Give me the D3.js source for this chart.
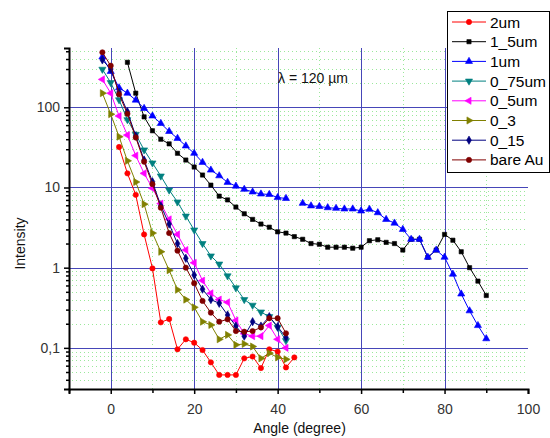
<!DOCTYPE html>
<html>
<head>
<meta charset="utf-8">
<script src="https://cdn.jsdelivr.net/npm/d3@7"></script>
<style>
  body { margin: 0; background: #fff; }
  svg { display: block; font-family: "Liberation Sans", Arial, sans-serif; }
</style>
</head>
<body>
<div id="chart"></div>
<script>
// --- data ---
const seriesNames = ['2um', '1_5um', '1um', '0_75um', '0_5um', '0_3', '0_15', 'bare Au'];

const anglesShort = [-2, 0, 2, 4, 6, 8, 10, 12, 14, 16, 18, 20, 22, 24, 26, 28, 30, 32, 34, 36, 38, 40, 42];

const angles2um = [2, 4, 6, 8, 10, 12, 14, 16, 18, 20, 22, 24, 26, 28, 30, 32, 34, 36, 38, 40, 42, 44];
const values2um = [32, 15, 8.1, 2.6, 0.98, 0.208, 0.229, 0.096, 0.128, 0.116, 0.094, 0.066, 0.046, 0.046, 0.046, 0.074, 0.078, 0.056, 0.096, 0.090, 0.057, 0.076];

const angles1_5um = [4, 6, 8, 10, 12, 14, 16, 18, 20, 22, 24, 26, 28, 30, 32, 34, 36, 38, 40, 42, 44, 46, 48, 50, 52, 54, 56, 58, 60, 62, 64, 66, 68, 70, 72, 74, 76, 78, 80, 82, 84, 86, 88, 90];
const values1_5um = [364, 150, 76, 51, 40, 35, 26.7, 22, 18, 14.3, 10.7, 7.8, 7.0, 5.7, 4.7, 4.0, 3.5, 3.2, 2.8, 2.7, 2.44, 2.26, 2.0, 1.96, 1.8, 1.8, 1.8, 1.75, 1.8, 2.17, 2.23, 2.07, 2.0, 1.66, 2.26, 2.26, 1.35, 1.66, 2.6, 2.2, 1.58, 1.0, 0.68, 0.45];

const angles1um = [-2, 0, 2, 4, 6, 8, 10, 12, 14, 16, 18, 20, 22, 24, 26, 28, 30, 32, 34, 36, 38, 40, 42, 46, 48, 50, 52, 54, 56, 58, 60, 62, 64, 66, 68, 70, 72, 74, 76, 78, 80, 82, 84, 86, 88, 90];
const values1um = [425, 280, 175, 150, 123, 97, 78, 63, 50, 41, 33, 26.7, 20.6, 16.5, 14.0, 11.6, 10.4, 9.5, 8.8, 8.3, 8.2, 7.5, 7.3, 6.35, 5.9, 5.8, 5.6, 5.5, 5.4, 5.4, 5.1, 5.35, 4.85, 4.0, 3.6, 3.0, 2.26, 2.26, 1.35, 1.66, 1.35, 0.83, 0.47, 0.29, 0.19, 0.13];

const values0_75um = [298, 203, 124, 70, 46, 29.4, 20.2, 13.9, 9.3, 6.6, 4.4, 2.95, 2.0, 1.4, 1.11, 0.79, 0.56, 0.40, 0.34, 0.28, 0.245, 0.18, 0.123];
const values0_5um = [223, 150, 78, 45, 25, 15, 9.8, 6.3, 4.0, 2.6, 1.66, 1.15, 0.69, 0.48, 0.40, 0.37, 0.22, 0.15, 0.14, 0.14, 0.19, 0.128, 0.10];
const values0_3 = [150, 82, 43, 21.5, 11.7, 6.2, 2.7, 1.58, 0.93, 0.53, 0.40, 0.32, 0.212, 0.193, 0.128, 0.145, 0.109, 0.112, 0.104, 0.074, 0.086, 0.076, 0.072];
const values0_15 = [390, 300, 155, 88, 44, 22, 11.8, 5.9, 3.5, 2.0, 1.31, 0.81, 0.54, 0.40, 0.36, 0.257, 0.187, 0.14, 0.212, 0.187, 0.245, 0.184, 0.135];
const valuesBareAu = [485, 330, 145, 83, 42, 21, 11, 5.6, 2.7, 1.63, 1.0, 0.64, 0.385, 0.275, 0.212, 0.227, 0.162, 0.159, 0.162, 0.18, 0.234, 0.234, 0.152];

const xTicks = [0, 20, 40, 60, 80, 100];
const xMinorTicks = [-10, 10, 30, 50, 70, 90];
const yTicks = [0.1, 1, 10, 100];
const yTickLabels = ['0,1', '1', '10', '100'];

// --- styles ---
const colors = ['#ff0000', '#000000', '#0000ff', '#008080', '#ff00ff', '#808000', '#000080', '#800000'];
const shapes = ['circle', 'square', 'up', 'down', 'left', 'right', 'diamond', 'circle'];

const series = [
  { x: angles2um, y: values2um },
  { x: angles1_5um, y: values1_5um },
  { x: angles1um, y: values1um },
  { x: anglesShort, y: values0_75um },
  { x: anglesShort, y: values0_5um },
  { x: anglesShort, y: values0_3 },
  { x: anglesShort, y: values0_15 },
  { x: anglesShort, y: valuesBareAu }
].map((s, i) => ({
  name: seriesNames[i],
  color: colors[i],
  shape: shapes[i],
  points: s.x.map((a, j) => ({ a, v: s.y[j] }))
}));

const W = 550, H = 438;
const plot = { left: 69, right: 528, top: 48, bottom: 389 };

const svg = d3.select('#chart').append('svg')
  .attr('width', W)
  .attr('height', H);

const x = d3.scaleLinear().domain([-10, 100]).range([plot.left, plot.right]);
const y = d3.scaleLog().domain([0.0307, 549]).range([plot.bottom, plot.top]);

// minor log values between decades
const yMinor = [];
[0.01, 0.1, 1, 10, 100].forEach(d => {
  for (let k = 2; k <= 9; k++) {
    const v = d * k;
    if (v >= y.domain()[0] && v <= y.domain()[1]) yMinor.push(v);
  }
});

// grid: green dotted minor
const grid = svg.append('g');
grid.selectAll('.hminor')
  .data(yMinor)
  .enter().append('line')
  .attr('x1', plot.left + 3).attr('x2', plot.right)
  .attr('y1', d => Math.round(y(d)) + 0.5).attr('y2', d => Math.round(y(d)) + 0.5)
  .attr('stroke', '#9be89b')
  .attr('stroke-dasharray', '1,3');
grid.selectAll('.vminor')
  .data(xMinorTicks.filter(d => d > -10))
  .enter().append('line')
  .attr('x1', d => Math.round(x(d)) + 0.5).attr('x2', d => Math.round(x(d)) + 0.5)
  .attr('y1', plot.top).attr('y2', plot.bottom)
  .attr('stroke', '#9be89b')
  .attr('stroke-dasharray', '1,3');

// grid: blue major
grid.selectAll('.hmajor')
  .data(yTicks)
  .enter().append('line')
  .attr('x1', plot.left).attr('x2', plot.right)
  .attr('y1', d => Math.round(y(d)) + 0.5).attr('y2', d => Math.round(y(d)) + 0.5)
  .attr('stroke', '#4646b8')
  .attr('stroke-width', 1);
grid.selectAll('.vmajor')
  .data(xTicks.filter(d => d < 100))
  .enter().append('line')
  .attr('x1', d => Math.round(x(d)) + 0.5).attr('x2', d => Math.round(x(d)) + 0.5)
  .attr('y1', plot.top).attr('y2', plot.bottom)
  .attr('stroke', '#4646b8')
  .attr('stroke-width', 1);

// axes
svg.append('g')
  .attr('transform', `translate(0,${plot.bottom})`)
  .call(d3.axisBottom(x).tickValues(xTicks).tickSize(5).tickPadding(10).tickFormat(d3.format('d')));
svg.append('g')
  .attr('transform', `translate(0,${plot.bottom})`)
  .call(d3.axisBottom(x).tickValues(xMinorTicks).tickSize(4).tickFormat(''))
  .call(g => g.select('.domain').remove());

svg.append('g')
  .attr('transform', `translate(${plot.left},0)`)
  .call(d3.axisLeft(y).tickValues(yTicks).tickSize(5).tickPadding(4)
    .tickFormat((d, i) => yTickLabels[i]));
svg.append('g')
  .attr('transform', `translate(${plot.left},0)`)
  .call(d3.axisLeft(y).tickValues(yMinor).tickSize(3).tickFormat(''))
  .call(g => g.select('.domain').remove());

svg.selectAll('.domain').attr('stroke', '#000').attr('stroke-width', 2);
svg.selectAll('.tick line').attr('stroke', '#000').attr('stroke-width', 1.5);
svg.selectAll('.tick text')
  .attr('font-size', 14)
  .attr('font-family', '"Liberation Sans", Arial, sans-serif')
  .attr('fill', '#333');

// axis titles
svg.append('text')
  .attr('x', (plot.left + plot.right) / 2 + 1)
  .attr('y', 433)
  .attr('text-anchor', 'middle')
  .attr('font-size', 14)
  .attr('fill', '#111')
  .text('Angle (degree)');

svg.append('text')
  .attr('transform', `translate(25,${(plot.top + plot.bottom) / 2 + 25}) rotate(-90)`)
  .attr('text-anchor', 'middle')
  .attr('font-size', 14)
  .attr('fill', '#111')
  .text('Intensity');

// annotation
svg.append('text')
  .attr('x', 278)
  .attr('y', 83)
  .attr('font-size', 14)
  .attr('fill', '#111')
  .text('λ = 120 µm');

// marker helper
function marker(sel, shape, color) {
  const sym = {
    circle: d3.symbolCircle, square: d3.symbolSquare, diamond: d3.symbolDiamond,
    up: d3.symbolTriangle, down: d3.symbolTriangle, left: d3.symbolTriangle, right: d3.symbolTriangle
  }[shape];
  const size = { circle: 22, square: 18, diamond: 20 }[shape] || 22;
  const rot = { down: 180, left: -90, right: 90 }[shape] || 0;
  sel.append('path')
    .attr('d', d3.symbol().type(sym).size(size)())
    .attr('transform', d => `translate(${d[0]},${d[1]}) rotate(${rot})`)
    .attr('fill', color)
    .attr('stroke', color)
    .attr('stroke-width', 0.6);
}

// series
const line = d3.line().x(d => x(d.a)).y(d => y(d.v));
series.forEach(s => {
  const g = svg.append('g');
  // 1um has a gap at 44 degrees
  const segs = [];
  let cur = [];
  s.points.forEach((p, i) => {
    if (i > 0 && p.a - s.points[i - 1].a > 2) { segs.push(cur); cur = []; }
    cur.push(p);
  });
  segs.push(cur);
  segs.forEach(seg => {
    g.append('path')
      .attr('d', line(seg))
      .attr('fill', 'none')
      .attr('stroke', s.color)
      .attr('stroke-width', 1);
  });
  const m = g.selectAll('.m')
    .data(s.points.map(p => [x(p.a), y(p.v)]))
    .enter().append('g');
  marker(m, s.shape, s.color);
});

// legend
const legend = svg.append('g');
legend.append('rect')
  .attr('x', 447.5).attr('y', 11.5)
  .attr('width', 102).attr('height', 161)
  .attr('fill', '#fff')
  .attr('stroke', '#000')
  .attr('stroke-width', 1);
series.forEach((s, i) => {
  const ly = 22 + i * 19.7;
  legend.append('line')
    .attr('x1', 452).attr('x2', 486)
    .attr('y1', ly).attr('y2', ly)
    .attr('stroke', s.color)
    .attr('stroke-width', 1);
  const m = legend.append('g').datum([469, ly]);
  marker(m, s.shape, s.color);
  legend.append('text')
    .attr('x', 490)
    .attr('y', ly + 5.5)
    .attr('font-size', 15.5)
    .attr('fill', '#000')
    .text(s.name);
});
</script>
</body>
</html>
